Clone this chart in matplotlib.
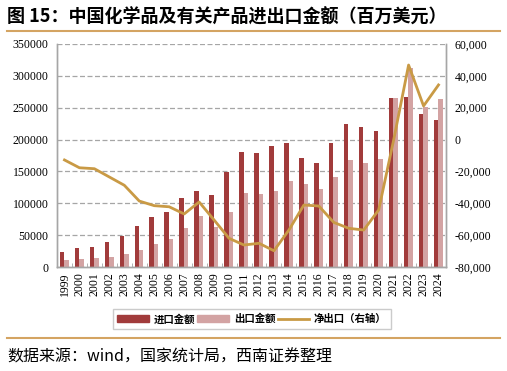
import numpy as np
from matplotlib import pyplot as plt
from matplotlib.lines import Line2D

plt.rcParams['font.family'] = ['Noto Sans CJK SC', 'DejaVu Sans']

# data (USD million)
years = [str(y) for y in range(1999, 2025)]
imports = [24000, 30000, 32000, 39000, 49000, 65000, 78000, 87000, 108000,
           120000, 112500, 149500, 181000, 179500, 190500, 194000, 171500,
           164000, 194000, 224000, 219000, 214000, 265000, 266500, 239500,
           230000]
exports = [11000, 13000, 14000, 16000, 20000, 26500, 36500, 44500, 61000,
           80000, 62000, 87000, 115500, 114500, 120000, 135000, 130000,
           122000, 142000, 168000, 162500, 169500, 265000, 313000, 251000,
           264000]
net_exports = [-12800, -17700, -18300, -23500, -28700, -38600, -41500,
               -42200, -46700, -39200, -50500, -62000, -66200, -65100,
               -69800, -56800, -41100, -41700, -52000, -55700, -56800,
               -44200, -300, 46800, 21100, 34300]

c_imp = '#A13B3B'
c_exp = '#D3A3A3'
c_line = '#C99A45'
c_grid = '#A6A6A6'
serif = 'Liberation Serif'

fig = plt.figure(figsize=(5.07, 3.71), dpi=100)
ax = fig.add_axes([57/507, 1-267/371, (446-57)/507, (267-44)/371])
ax2 = ax.twinx()

x = np.arange(len(years))
w = 0.3
ax.bar(x - w/2 - 0.02, imports, width=w, color=c_imp, zorder=2)
ax.bar(x + w/2 - 0.02, exports, width=w, color=c_exp, zorder=2)
ax2.plot(x, net_exports, color=c_line, lw=2, zorder=3)

ax.set_xlim(-0.5, len(years) - 0.5)
ax.set_ylim(0, 350000)
ax2.set_ylim(-80000, 60000)
ax.set_yticks(np.arange(0, 350001, 50000))
ax2.set_yticks(np.arange(-80000, 60001, 20000))
ax2.set_yticklabels([f'{v:,}' for v in range(-80000, 60001, 20000)])

ax.yaxis.grid(True, ls=(0, (4, 2)), color=c_grid, lw=0.9, zorder=0)
ax.set_axisbelow(True)

ax.set_xticks(x)
ax.set_xticklabels(years, rotation=90, fontfamily=serif, fontsize=8.5)
ax.set_xticks(np.arange(-0.5, len(years), 1), minor=True)
ax.tick_params(axis='x', which='major', length=0, pad=4)
ax.tick_params(axis='x', which='minor', direction='in', length=3,
               color=c_grid)
ax.tick_params(axis='y', length=0, labelsize=8.5, pad=6)
ax2.tick_params(axis='y', length=0, labelsize=8.5, pad=6)
for lab in ax.get_yticklabels() + ax2.get_yticklabels():
    lab.set_fontfamily(serif)

for a in (ax, ax2):
    a.spines['top'].set_visible(False)
    for s in ('left', 'right', 'bottom'):
        a.spines[s].set_color(c_grid)
        a.spines[s].set_linewidth(1)

handles = [plt.Rectangle((0, 0), 1, 1, color=c_imp),
           plt.Rectangle((0, 0), 1, 1, color=c_exp),
           Line2D([0], [0], color=c_line, lw=2)]
leg = fig.legend(handles, ['进口金额', '出口金额', '净出口（右轴）'],
                 loc='center', bbox_to_anchor=(252/507, 1-319/371), ncol=3,
                 fontsize=7.5, frameon=True, fancybox=False,
                 edgecolor='#BFBFBF',
                 handlelength=3.0, handleheight=0.7, handletextpad=0.5,
                 columnspacing=0.2, borderpad=0.45)
for t in leg.get_texts():
    t.set_fontweight('bold')

fig.text(7/507, 1-17/371, '图 15：中国化学品及有关产品进出口金额（百万美元）',
         fontsize=13, fontweight='bold', va='center', ha='left')
fig.add_artist(Line2D([7/507, 500/507], [1-31/371, 1-31/371],
                      color='#D4A462', lw=1.5))
fig.add_artist(Line2D([7/507, 500/507], [1-338/371, 1-338/371],
                      color='#D4A462', lw=1.5))
fig.text(7/507, 1-357/371, '数据来源：wind，国家统计局，西南证券整理',
         fontsize=11.5, style='italic', va='center', ha='left')

fig.savefig('out.png', dpi=100)
